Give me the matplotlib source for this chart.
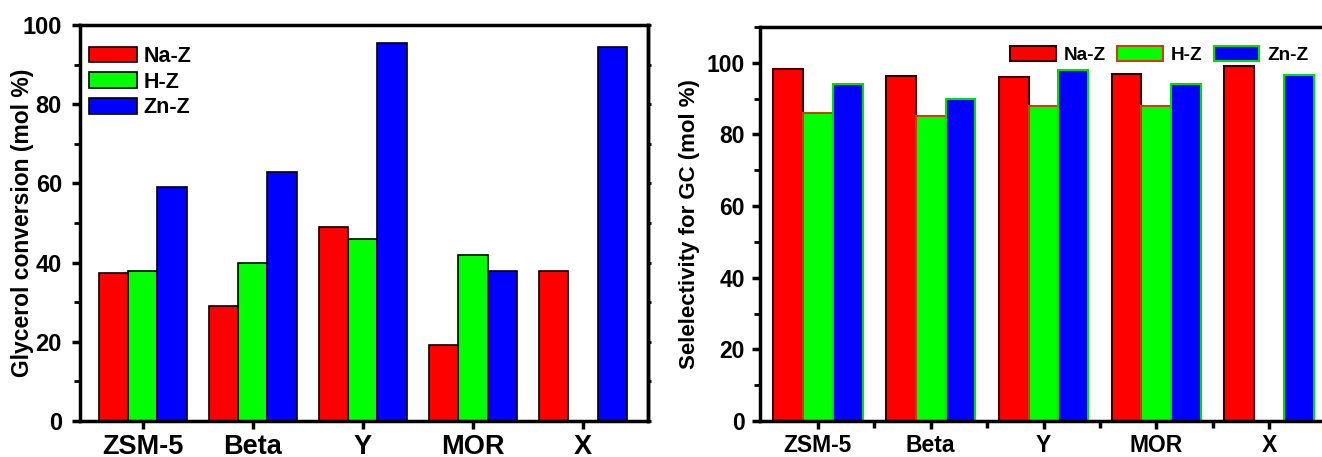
import matplotlib
matplotlib.use("Agg")
import matplotlib.pyplot as plt
import numpy as np
from matplotlib.ticker import MultipleLocator, FixedLocator, NullFormatter

plt.rcParams['font.family'] = ['Liberation Sans', 'DejaVu Sans']
plt.rcParams['font.weight'] = 'bold'

categories = ["ZSM-5", "Beta", "Y", "MOR", "X"]
series = ["Na-Z", "H-Z", "Zn-Z"]

conv_na = [37.3, 29.0, 49.0, 19.3, 37.8]
conv_h = [38.0, 40.0, 46.0, 42.0, np.nan]
conv_zn = [59.0, 63.0, 95.5, 38.0, 94.5]

sel_na = [98.2, 96.2, 96.0, 97.0, 99.0]
sel_h = [86.0, 85.2, 88.0, 88.0, np.nan]
sel_zn = [94.0, 90.0, 98.0, 94.0, 96.5]

fill_colors = ["#ff0000", "#00ff00", "#0000ff"]
left_edges = ["#000000", "#000000", "#000000"]
right_edges = ["#3a0000", "#c84010", "#00e000"]

fig = plt.figure(figsize=(13.22, 4.57), dpi=100)
ax1 = fig.add_axes([80/1322, 36/457, 568/1322, 396/457])
ax2 = fig.add_axes([760/1322, 36/457, 567/1322, 394/457])

x = np.arange(len(categories))
w = 0.265

def style(ax, xsize, ysize, ypad):
    for s in ax.spines.values():
        s.set_linewidth(2.5)
    ax.tick_params(axis='both', which='major', direction='out', length=6, width=2.5, pad=3)
    ax.tick_params(axis='both', which='minor', direction='out', length=4, width=2)
    ax.tick_params(axis='x', labelsize=xsize)
    ax.tick_params(axis='y', labelsize=ysize, pad=ypad)
    for lab in ax.get_xticklabels() + ax.get_yticklabels():
        lab.set_fontweight('bold')

# Left chart
for i, (vals, fc, ec, lab) in enumerate(zip([conv_na, conv_h, conv_zn], fill_colors, left_edges, series)):
    ax1.bar(x + (i - 1) * w, vals, width=w, color=fc, edgecolor=ec, linewidth=1.2, label=lab)
ax1.set_xlim(-0.57, 4.59)
ax1.set_ylim(0, 100)
ax1.set_xticks(x)
ax1.set_xticklabels(categories)
ax1.yaxis.set_major_locator(MultipleLocator(20))
ax1.yaxis.set_minor_locator(MultipleLocator(10))
style(ax1, 19.5, 17, 7)
ax1.set_ylabel("Glycerol conversion (mol %)", fontsize=16.5, fontweight='bold')
ax1.yaxis.set_label_coords(-0.081, 0.5)
sec = ax1.secondary_yaxis('right')
sec.yaxis.set_major_locator(MultipleLocator(10))
sec.yaxis.set_major_formatter(NullFormatter())
sec.tick_params(axis='y', which='major', direction='out', length=2.5, width=2)
sec.spines['right'].set_linewidth(2.5)
leg1 = ax1.legend(loc='upper left', bbox_to_anchor=(-0.01, 0.985), frameon=False,
                  prop={'size': 15.5, 'weight': 'bold'}, handlelength=2.2, handleheight=0.75,
                  labelspacing=0.22, handletextpad=0.3, borderaxespad=0.3)

# Right chart
for i, (vals, fc, ec, lab) in enumerate(zip([sel_na, sel_h, sel_zn], fill_colors, right_edges, series)):
    ax2.bar(x + (i - 1) * w, vals, width=w, color=fc, edgecolor=ec, linewidth=1.5, label=lab)
ax2.set_xlim(-0.51, 4.51)
ax2.set_ylim(0, 110)
ax2.set_xticks(x)
ax2.set_xticklabels(categories)
ax2.xaxis.set_minor_locator(FixedLocator(x[:-1] + 0.5))
ax2.yaxis.set_major_locator(MultipleLocator(20))
ax2.yaxis.set_minor_locator(MultipleLocator(10))
style(ax2, 16.5, 16.5, 5)
ax2.tick_params(axis='x', which='minor', length=5, width=2.5)
ax2.set_ylabel("Selelectivity for GC (mol %)", fontsize=16, fontweight='bold')
ax2.yaxis.set_label_coords(-0.106, 0.5)
leg2 = ax2.legend(loc='upper right', bbox_to_anchor=(0.99, 0.985), frameon=False, ncol=3,
                  prop={'size': 13.7, 'weight': 'bold'}, handlelength=2.4, handleheight=0.85,
                  handletextpad=0.4, columnspacing=0.6, borderaxespad=0.3)

fig.savefig("out.png", dpi=100)
